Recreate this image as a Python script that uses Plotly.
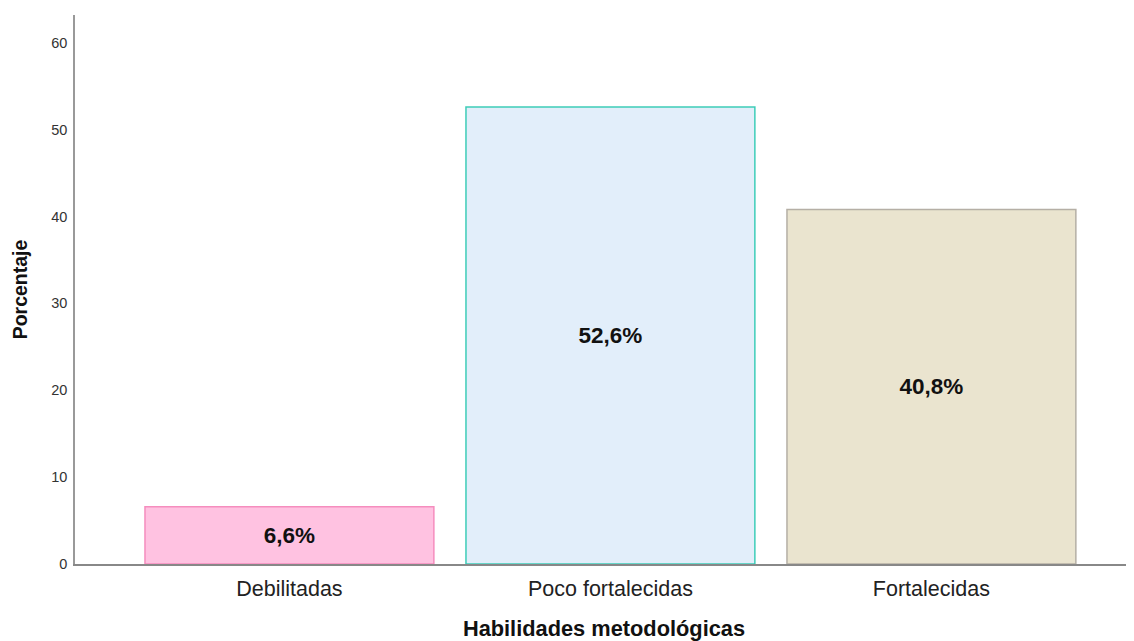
import plotly.graph_objects as go

categories = ["Debilitadas", "Poco fortalecidas", "Fortalecidas"]
values = [6.6, 52.6, 40.8]
fill_colors = ["#FFC2E1", "#E2EEFA", "#EAE4CF"]
line_colors = ["#F58DBE", "#3ECDB8", "#B5AFA5"]
y_ticks = [0, 10, 20, 30, 40, 50, 60]

labels = [f"{v:.1f}".replace(".", ",") + "%" for v in values]

fig = go.Figure(go.Bar(
    x=list(range(len(categories))),
    y=values,
    width=0.9,
    marker=dict(color=fill_colors, line=dict(color=line_colors, width=1.5)),
    text=labels,
    textposition="inside",
    insidetextanchor="middle",
    textangle=0,
    textfont=dict(family="Liberation Sans, Arial", size=22.5, color="#111111", weight="bold"),
))

fig.update_layout(
    width=1126, height=633,
    margin=dict(l=67, r=1, t=7, b=77),
    paper_bgcolor="white", plot_bgcolor="white",
    showlegend=False,
    font=dict(family="Liberation Sans, Arial", color="#222222"),
    uniformtext=dict(minsize=10, mode="show"),
)
fig.update_xaxes(
    range=[-0.668, 2.628],
    tickvals=list(range(len(categories))),
    ticktext=categories,
    tickfont=dict(size=21.5, color="#222222"),
    showline=True, linecolor="#888888", linewidth=1.5,
    showgrid=False, zeroline=False, ticks="outside", ticklen=4, tickcolor="rgba(0,0,0,0)",
    automargin=False,
    title=dict(text="<b>Habilidades metodológicas</b>", font=dict(size=21.8, color="#111111"), standoff=24),
)
fig.update_yaxes(
    range=[0, 63.2],
    tickvals=y_ticks,
    tickfont=dict(size=14.5, color="#333333"),
    showline=True, linecolor="#999999", linewidth=1.5,
    showgrid=False, zeroline=False, ticks="outside", ticklen=3, tickcolor="rgba(0,0,0,0)",
    automargin=False,
    title=dict(text="<b>Porcentaje</b>", font=dict(size=19.5, color="#111111"), standoff=18),
)

fig.write_html("out.html")
